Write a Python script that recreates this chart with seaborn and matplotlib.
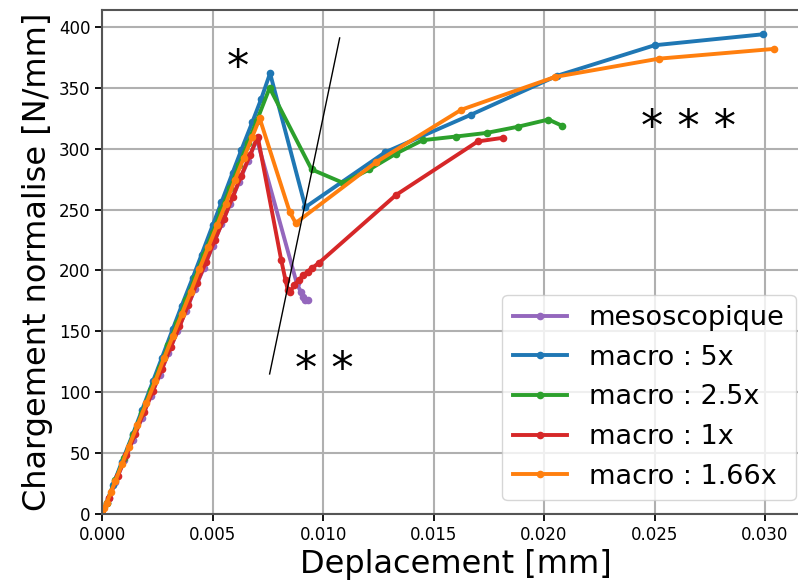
import matplotlib
matplotlib.use('Agg')
import matplotlib.pyplot as plt
import seaborn as sns


# === Data ===

# Deplacement [mm] / Chargement normalise [N/mm] per model.
meso_x = [0.0, 0.0003, 0.0006, 0.0010, 0.0014, 0.0018, 0.0022, 0.0026, 0.0030, 0.0034,
          0.0038, 0.0042, 0.0046, 0.0050, 0.0054, 0.0058, 0.0062, 0.0066, 0.0070,
          0.0088, 0.0090, 0.0091, 0.0092, 0.0093]
meso_y = [0, 13, 26, 44, 61, 79, 97, 114, 132, 150,
          167, 185, 202, 220, 238, 255, 273, 290, 308,
          190, 182, 178, 176, 176]

macro5_x = [0.0, 0.0002, 0.0005, 0.0009, 0.0014, 0.0018, 0.0023, 0.0027, 0.0032, 0.0036,
            0.0041, 0.0045, 0.0050, 0.0054, 0.0059, 0.0063, 0.0068, 0.0072, 0.0076,
            0.0092, 0.0128, 0.0167, 0.0206, 0.0250, 0.0299]
macro5_y = [0, 9, 24, 43, 66, 85, 109, 128, 152, 171,
            194, 213, 237, 256, 280, 299, 322, 341, 362,
            252, 297, 328, 360, 385, 394]

macro25_x = [0.0, 0.0002, 0.0006, 0.0010, 0.0014, 0.0018, 0.0022, 0.0026, 0.0030, 0.0034,
             0.0038, 0.0042, 0.0046, 0.0050, 0.0054, 0.0058, 0.0062, 0.0066, 0.0070, 0.00758,
             0.00948, 0.0109, 0.0121, 0.0133, 0.0145, 0.0160, 0.0174, 0.0188, 0.0202, 0.0208]
macro25_y = [0, 9, 28, 46, 65, 83, 102, 120, 139, 157,
             176, 194, 213, 231, 250, 268, 287, 305, 323, 350,
             283, 272, 283, 296, 307, 310, 313, 318, 324, 319]

macro1_x = [0.0, 0.0003, 0.0007, 0.0011, 0.0015, 0.0019, 0.0023, 0.0027, 0.0031, 0.0035,
            0.0039, 0.0043, 0.0047, 0.0051, 0.0055, 0.0059, 0.0063, 0.0067, 0.00704,
            0.0081, 0.0083, 0.0084, 0.00849, 0.0087, 0.0089, 0.0091, 0.0093, 0.0095, 0.0098,
            0.0133, 0.0170, 0.01815]
macro1_y = [0, 13, 31, 48, 66, 84, 101, 119, 137, 154,
            172, 190, 207, 225, 242, 260, 278, 295, 310,
            209, 192, 184, 182, 188, 192, 196, 199, 202, 206,
            262, 306, 309]

macro166_x = [0.0, 0.0001, 0.0002, 0.0004, 0.0006, 0.0009, 0.0012, 0.0016, 0.0020, 0.0024,
              0.0028, 0.0032, 0.0036, 0.0040, 0.0044, 0.0048, 0.0052, 0.0056, 0.0060,
              0.0064, 0.0068, 0.00713,
              0.00849, 0.00876, 0.0124, 0.01625, 0.0205, 0.0252, 0.0304]
macro166_y = [0, 5, 9, 18, 27, 41, 55, 73, 91, 109,
              128, 146, 164, 182, 201, 219, 237, 255, 274,
              292, 310, 325,
              248, 239, 289, 332, 359, 374, 382]

labels = ['mesoscopique', 'macro : 5x', 'macro : 2.5x', 'macro : 1x', 'macro : 1.66x']
colors = ['tab:purple', 'tab:blue', 'tab:green', 'tab:red', 'tab:orange']

# Thin guide line through the load drops.
guide_x = [0.00758, 0.01075]
guide_y = [115, 391]


# === Plot ===

fig = plt.figure(figsize=(7.98, 5.86), dpi=100)
ax = fig.add_axes([0.128, 0.123, 0.886, 0.860])

series = [
    (meso_x, meso_y),
    (macro5_x, macro5_y),
    (macro25_x, macro25_y),
    (macro1_x, macro1_y),
    (macro166_x, macro166_y),
]
for (x, y), label, color in zip(series, labels, colors):
    sns.lineplot(
        x=x, y=y, ax=ax, sort=False, label=label, color=color,
        linewidth=2.8, marker='o', markersize=5.5,
        markeredgewidth=0, markeredgecolor=color,
    )

ax.plot(guide_x, guide_y, color='black', linewidth=1)

# Annotations for the three stages.
ax.text(0.00614, 366, '*', fontsize=32, ha='center', va='center')
ax.text(0.01007, 118, '* *', fontsize=32, ha='center', va='center')
ax.text(0.02655, 317, '* * *', fontsize=32, ha='center', va='center')

ax.set_xlim(0, 0.0320)
ax.set_ylim(0, 414)
ax.set_xticks([0.0, 0.005, 0.010, 0.015, 0.020, 0.025, 0.030])
ax.set_xticklabels(['0.000', '0.005', '0.010', '0.015', '0.020', '0.025', '0.030'])
ax.tick_params(labelsize=12, width=1.3, length=5)
ax.grid(True, color='#b0b0b0', linewidth=1.5)
for spine in ax.spines.values():
    spine.set_linewidth(1.5)
    spine.set_color('#555555')

ax.set_xlabel('Deplacement [mm]', fontsize=23)
ax.set_ylabel('Chargement normalise [N/mm]', fontsize=23)
ax.legend(loc='lower right', fontsize=19.5)

fig.savefig('out.png', dpi=100)
